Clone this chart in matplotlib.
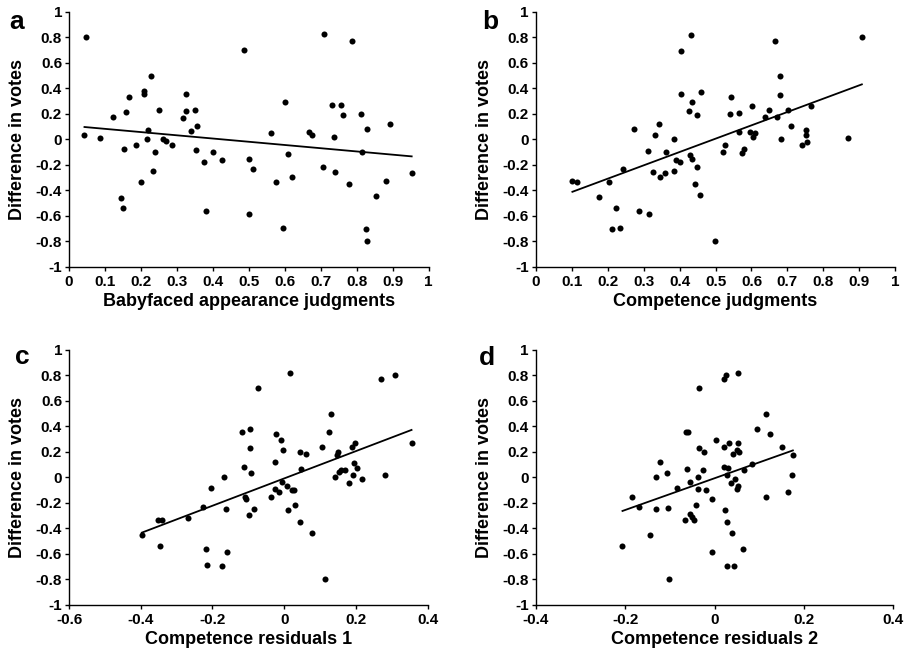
import numpy as np
import matplotlib.pyplot as plt

plt.rcParams['font.family'] = ['Liberation Sans', 'DejaVu Sans']
plt.rcParams['font.weight'] = 'bold'

# panel a: babyfaced appearance judgments vs difference in votes
a_x = [0.043, 0.047, 0.085, 0.122, 0.144, 0.149, 0.152, 0.159, 0.167, 0.187,
       0.200, 0.208, 0.208, 0.218, 0.220, 0.228, 0.234, 0.238, 0.251, 0.262,
       0.270, 0.286, 0.317, 0.325, 0.325, 0.340, 0.351, 0.352, 0.357, 0.376,
       0.381, 0.401, 0.425, 0.488, 0.500, 0.500, 0.511, 0.563, 0.575, 0.595,
       0.600, 0.610, 0.619, 0.667, 0.675, 0.706, 0.708, 0.731, 0.738, 0.740,
       0.756, 0.762, 0.778, 0.786, 0.812, 0.816, 0.825, 0.830, 0.830, 0.855,
       0.881, 0.894, 0.953]
a_y = [0.037, 0.805, 0.013, 0.178, -0.457, -0.539, -0.073, 0.212, 0.335, -0.044,
       -0.337, 0.376, 0.353, 0.000, 0.073, 0.497, -0.246, -0.102, 0.233, 0.000,
       -0.016, -0.042, 0.170, 0.358, 0.225, 0.063, 0.233, -0.086, 0.107, -0.175,
       -0.565, -0.099, -0.159, 0.698, -0.157, -0.586, -0.233, 0.052, -0.337, -0.695,
       0.290, -0.118, -0.293, 0.058, 0.034, -0.217, 0.824, 0.267, 0.018, -0.254,
       0.267, 0.193, -0.350, 0.771, 0.196, -0.097, -0.701, 0.078, -0.797, -0.442,
       -0.324, 0.123, -0.261]

# panel b: competence judgments
b_x = [0.102, 0.114, 0.175, 0.204, 0.213, 0.223, 0.235, 0.244, 0.273, 0.288,
       0.312, 0.316, 0.325, 0.333, 0.342, 0.345, 0.360, 0.363, 0.384, 0.384,
       0.390, 0.401, 0.403, 0.405, 0.427, 0.429, 0.433, 0.436, 0.436, 0.442,
       0.448, 0.448, 0.457, 0.461, 0.499, 0.521, 0.526, 0.540, 0.542, 0.564,
       0.565, 0.573, 0.578, 0.596, 0.602, 0.603, 0.611, 0.639, 0.649, 0.666,
       0.672, 0.679, 0.679, 0.681, 0.703, 0.709, 0.740, 0.751, 0.752, 0.755,
       0.766, 0.868, 0.907]
b_y = [-0.327, -0.338, -0.453, -0.335, -0.702, -0.539, -0.694, -0.236, 0.079, -0.565,
       -0.089, -0.586, -0.254, 0.031, 0.118, -0.296, -0.264, -0.099, 0.000, -0.249,
       -0.162, -0.175, 0.696, 0.356, 0.223, -0.120, 0.819, 0.291, -0.154, -0.348,
       0.191, -0.220, -0.440, 0.372, -0.798, -0.102, -0.042, 0.196, 0.335, 0.209,
       0.060, -0.105, -0.076, 0.058, 0.264, 0.016, 0.052, 0.178, 0.230, 0.767,
       0.173, 0.495, 0.348, 0.000, 0.230, 0.105, -0.047, 0.037, 0.071, -0.018,
       0.264, 0.013, 0.801]

# panel c: competence residuals 1
c_x = [-0.397, -0.352, -0.347, -0.340, -0.268, -0.227, -0.219, -0.214, -0.203, -0.173,
       -0.167, -0.162, -0.159, -0.117, -0.111, -0.108, -0.106, -0.097, -0.094, -0.095,
       -0.092, -0.084, -0.074, -0.038, -0.026, -0.025, -0.024, -0.014, -0.010, -0.007,
       -0.004, 0.008, 0.010, 0.016, 0.021, 0.028, 0.030, 0.043, 0.045, 0.046,
       0.060, 0.078, 0.105, 0.114, 0.124, 0.130, 0.141, 0.147, 0.151, 0.152,
       0.157, 0.170, 0.181, 0.188, 0.193, 0.195, 0.198, 0.202, 0.218, 0.270,
       0.281, 0.310, 0.355]
c_y = [-0.454, -0.334, -0.535, -0.334, -0.321, -0.230, -0.564, -0.689, -0.086, -0.695,
       0.005, -0.245, -0.585, 0.358, 0.081, -0.154, -0.170, -0.292, 0.376, 0.227,
       0.031, -0.251, 0.702, -0.151, 0.123, -0.094, 0.339, -0.117, 0.295, -0.039,
       0.214, -0.068, -0.258, 0.822, -0.097, -0.099, -0.214, -0.347, 0.196, 0.065,
       0.180, -0.433, 0.235, -0.794, 0.355, 0.501, 0.005, 0.178, 0.201, 0.044,
       0.060, 0.060, -0.042, 0.235, 0.018, 0.112, 0.272, 0.076, -0.016, 0.770,
       0.016, 0.807, 0.269]

# panel d: competence residuals 2
d_x = [-0.206, -0.185, -0.168, -0.144, -0.131, -0.131, -0.123, -0.107, -0.105, -0.101,
       -0.083, -0.067, -0.063, -0.062, -0.059, -0.056, -0.054, -0.050, -0.047, -0.042,
       -0.038, -0.036, -0.035, -0.034, -0.026, -0.024, -0.019, -0.006, -0.006, 0.004,
       0.021, 0.022, 0.023, 0.022, 0.026, 0.028, 0.028, 0.028, 0.030, 0.033,
       0.036, 0.040, 0.041, 0.043, 0.045, 0.051, 0.051, 0.052, 0.053, 0.054,
       0.053, 0.063, 0.066, 0.083, 0.094, 0.114, 0.114, 0.125, 0.151, 0.164,
       0.172, 0.175]
d_y = [-0.538, -0.157, -0.232, -0.454, 0.005, -0.251, 0.123, 0.031, -0.243, -0.796,
       -0.084, -0.334, 0.358, 0.065, 0.355, -0.039, -0.287, -0.311, -0.334, -0.217,
       -0.094, 0.005, 0.702, 0.230, 0.057, 0.201, -0.099, -0.582, -0.170, 0.295,
       0.770, 0.235, -0.258, 0.081, 0.807, 0.018, -0.347, -0.692, 0.076, 0.272,
       -0.042, -0.436, 0.180, -0.697, -0.016, -0.094, 0.214, 0.822, 0.269, 0.196,
       -0.065, -0.564, 0.060, 0.107, 0.376, 0.501, -0.151, 0.339, 0.235, -0.115,
       0.018, 0.175]

panels = [
    ("a", a_x, a_y, "Babyfaced appearance judgments", (0, 1), np.arange(0, 1.01, 0.1)),
    ("b", b_x, b_y, "Competence judgments", (0, 1), np.arange(0, 1.01, 0.1)),
    ("c", c_x, c_y, "Competence residuals 1", (-0.6, 0.4), np.arange(-0.6, 0.41, 0.2)),
    ("d", d_x, d_y, "Competence residuals 2", (-0.4, 0.4), np.arange(-0.4, 0.41, 0.2)),
]
rects = [
    [0.076, 0.592, 0.396, 0.390],
    [0.590, 0.592, 0.396, 0.390],
    [0.076, 0.075, 0.395, 0.390],
    [0.590, 0.075, 0.394, 0.390],
]
letter_pos = [(17, 22), (490, 22), (22, 357), (487, 358)]


def fmt(v):
    s = f"{v:.1f}"
    if s in ("0.0", "-0.0"):
        return "0"
    if s == "1.0":
        return "1"
    if s == "-1.0":
        return "-1"
    return s


fig = plt.figure(figsize=(9.08, 6.54), dpi=100)

for (letter, xs, ys, xlabel, xlim, xticks), rect, lp in zip(panels, rects, letter_pos):
    ax = fig.add_axes(rect)
    ax.scatter(xs, ys, s=19, color="black", zorder=3, linewidths=0)

    # least squares fit line over the data range
    k, m = np.polyfit(xs, ys, 1)
    lx = np.array([min(xs), max(xs)])
    ax.plot(lx, k * lx + m, color="black", lw=1.3)

    ax.set_xlim(*xlim)
    ax.set_ylim(-1, 1)
    ax.set_xticks(xticks)
    ax.set_xticklabels([fmt(v) for v in xticks])
    yt = np.arange(-1, 1.01, 0.2)
    ax.set_yticks(yt)
    ax.set_yticklabels([fmt(v) for v in yt])
    ax.spines["top"].set_visible(False)
    ax.spines["right"].set_visible(False)
    for sp in ("left", "bottom"):
        ax.spines[sp].set_linewidth(1.0)
    ax.tick_params(axis="both", labelsize=11, width=1.0, length=3, pad=2)
    ax.tick_params(axis="x", pad=3)
    ax.set_xlabel(xlabel, fontsize=13, fontweight="bold", labelpad=3)
    ax.set_ylabel("Difference in votes", fontsize=13, fontweight="bold", labelpad=7)

    fig.text(lp[0] / 908, 1 - lp[1] / 654, letter, fontsize=19, fontweight="bold",
             ha="center", va="center")

fig.savefig("out.png", dpi=100)
